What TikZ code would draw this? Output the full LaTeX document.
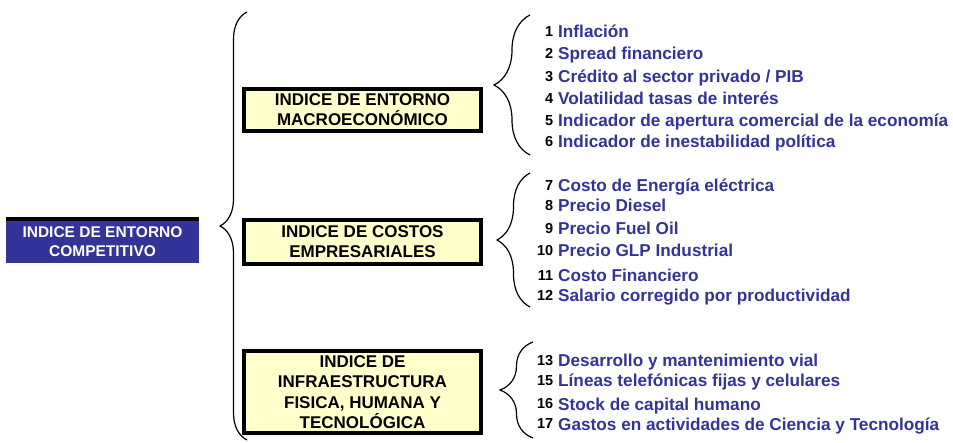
\documentclass[tikz,border=0pt]{standalone}
\usepackage{fontspec}
\setmainfont{Liberation Sans}
\usepackage{xcolor}
\usetikzlibrary{positioning,decorations.pathreplacing}
\definecolor{indigo}{RGB}{51,51,153}
\definecolor{paleyellow}{RGB}{255,255,204}
\newcommand{\nr}[1]{\llap{\color{black}\fontsize{14.5}{15}\selectfont\raisebox{1.5pt}{#1}\hspace{5pt}}}

\begin{document}
\begin{tikzpicture}[x=1pt,y=-1pt,
    idxbox/.style={draw=black,line width=3.5pt,fill=paleyellow,minimum width=237pt,align=center,inner sep=0pt,font=\fontsize{17}{20.3}\selectfont\bfseries},
    item/.style={anchor=base west,inner sep=0pt,text=indigo,font=\fontsize{17.2}{20}\selectfont\bfseries},
    curly/.style={decorate,decoration={brace,amplitude=#1},line width=1.2pt},
    curly/.default=34pt]
    \useasboundingbox (0,0) rectangle (953,443);

    % main index
    \node[fill=indigo,text=white,minimum width=193pt,minimum height=42.3pt,inner sep=0pt,align=center,
          font=\fontsize{15.5}{19}\selectfont\bfseries] (competitivo) at (102.5,241.9) {INDICE DE ENTORNO\\COMPETITIVO};
    \draw[line width=4pt] ([yshift=2pt]competitivo.north west) -- ([yshift=2pt]competitivo.north east);

    % sub indices
    \node[idxbox,minimum height=42pt] (macro) at (362.5,110) {INDICE DE ENTORNO\\MACROECONÓMICO};
    \node[idxbox,minimum height=44pt] (costos) at (362.5,242) {INDICE DE COSTOS\\EMPRESARIALES};
    \node[idxbox,minimum height=82pt] (infra) at (362.5,392) {INDICE DE\\INFRAESTRUCTURA\\FISICA, HUMANA Y\\TECNOLÓGICA};

    % braces
    \draw[curly=27pt] (247,440) -- (247,12);
    \draw[curly=36pt] (530,155) -- (530,15);
    \draw[curly=33pt] (530,307) -- (530,173);
    \draw[curly=33pt] (533,438) -- (533,342);

    % macro variables
    \node[item] (i1) at (558,38) {\nr{1}Inflación};
    \node[item] (i2) at (558,60) {\nr{2}Spread financiero};
    \node[item] (i3) at (558,83) {\nr{3}Crédito al sector privado / PIB};
    \node[item] (i4) at (558,105) {\nr{4}Volatilidad tasas de interés};
    \node[item] (i5) at (558,127) {\nr{5}Indicador de apertura comercial de la economía};
    \node[item] (i6) at (558,148) {\nr{6}Indicador de inestabilidad política};

    % cost variables
    \node[item] (i7) at (558,192) {\nr{7}Costo de Energía eléctrica};
    \node[item] (i8) at (558,212) {\nr{8}Precio Diesel};
    \node[item] (i9) at (558,235) {\nr{9}Precio Fuel Oil};
    \node[item] (i10) at (558,257) {\nr{10}Precio GLP Industrial};
    \node[item] (i11) at (558,282) {\nr{11}Costo Financiero};
    \node[item] (i12) at (558,302) {\nr{12}Salario corregido por productividad};

    % infrastructure variables
    \node[item] (i13) at (558,367) {\nr{13}Desarrollo y mantenimiento vial};
    \node[item] (i15) at (558,387) {\nr{15}Líneas telefónicas fijas y celulares};
    \node[item] (i16) at (558,410) {\nr{16}Stock de capital humano};
    \node[item] (i17) at (558,430) {\nr{17}Gastos en actividades de Ciencia y Tecnología};
\end{tikzpicture}
\end{document}
